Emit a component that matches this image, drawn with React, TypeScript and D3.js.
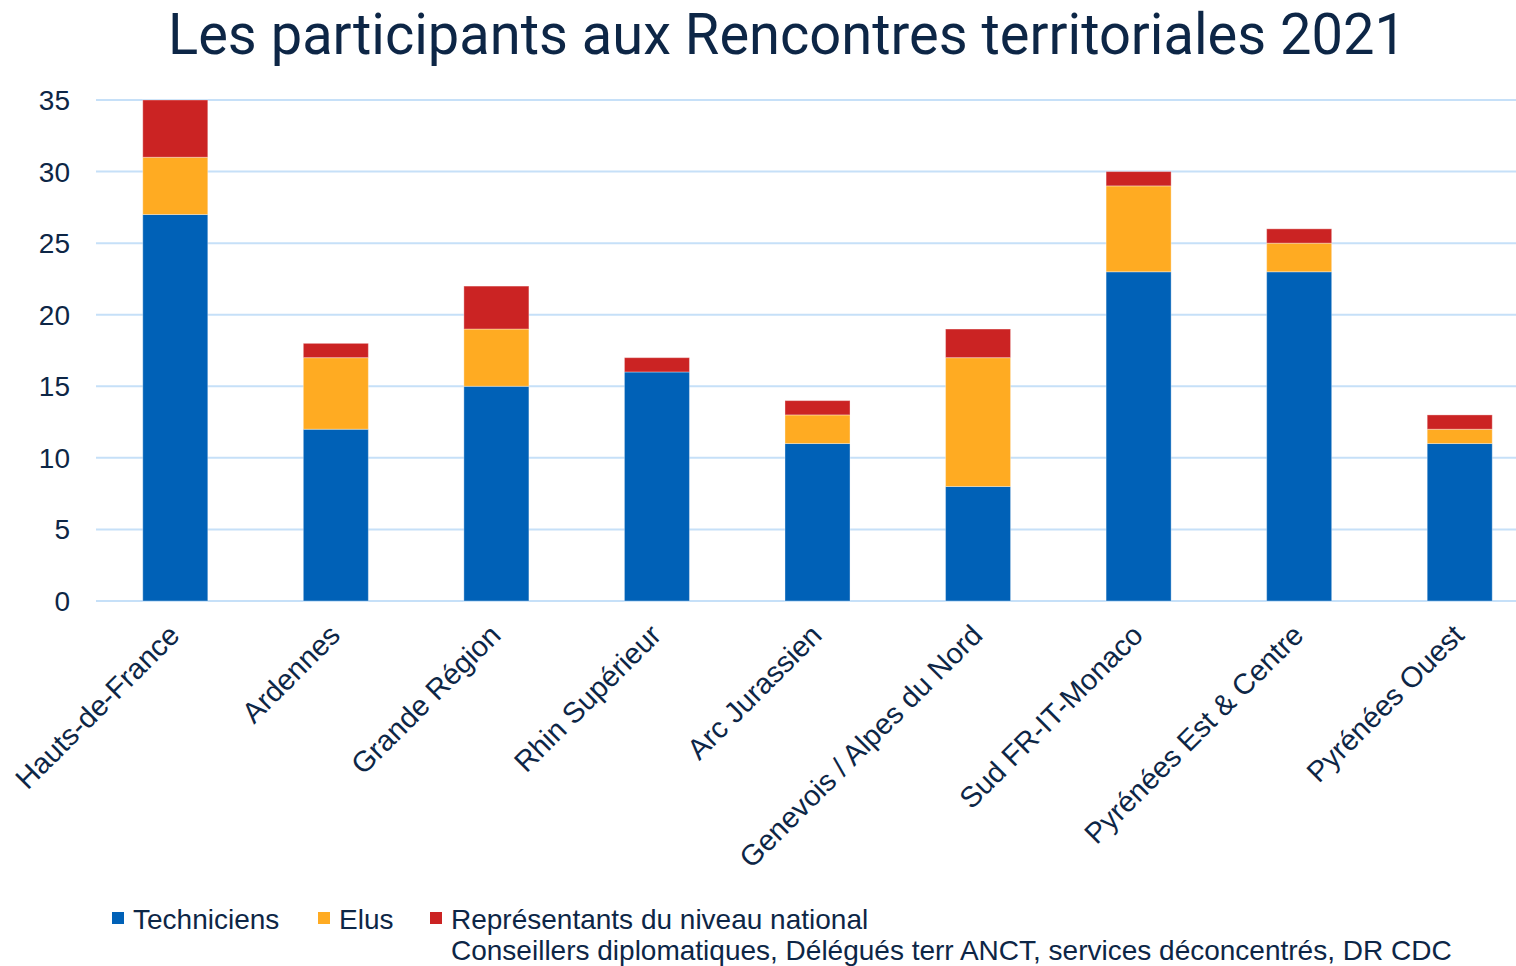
import React from 'react';
import * as d3 from 'd3';

const categories = [
    'Hauts-de-France', 'Ardennes', 'Grande Région', 'Rhin Supérieur', 'Arc Jurassien',
    'Genevois / Alpes du Nord', 'Sud FR-IT-Monaco', 'Pyrénées Est & Centre', 'Pyrénées Ouest',
];
const techniciens = [27, 12, 15, 16, 11, 8, 23, 23, 11];
const elus = [4, 5, 4, 0, 2, 9, 6, 2, 1];
const representants = [4, 1, 3, 1, 1, 2, 1, 1, 1];
const seriesKeys = ['techniciens', 'elus', 'representants'];
const seriesColors = ['#0061b7', '#ffab22', '#cb2323'];
const yTicks = [0, 5, 10, 15, 20, 25, 30, 35];

const W = 1516;
const H = 966;
const textColor = '#0d2646';

const App: React.FC = () => {
    const rows = categories.map((c, i) => ({
        cat: c,
        techniciens: techniciens[i],
        elus: elus[i],
        representants: representants[i],
    }));
    const stacked = d3.stack<any>().keys(seriesKeys)(rows);

    const x = d3.scaleBand<string>()
        .domain(categories)
        .range([95, 1540])
        .paddingInner(0.595)
        .paddingOuter(0.2975);
    const y = d3.scaleLinear().domain([0, 35]).range([601, 100]);

    return (
        <svg width={W} height={H} style={{ position: 'fixed', top: 0, left: 0, background: '#fff' }}
            fontFamily="'Liberation Sans', Arial, sans-serif">
            <text x={168} y={54} fontSize={58} fill={textColor} textLength={1238} lengthAdjust="spacingAndGlyphs"
                fontFamily="Roboto, 'Noto Sans', sans-serif">
                Les participants aux Rencontres territoriales 2021
            </text>

            {/* gridlines */}
            {yTicks.map(t => (
                <line key={t} x1={96} x2={W} y1={y(t)} y2={y(t)} stroke="#c6e0f8" strokeWidth={2} />
            ))}
            {yTicks.map(t => (
                <text key={'l' + t} x={70} y={y(t) + 10} textAnchor="end" fontSize={28} fill={textColor}>{t}</text>
            ))}

            {/* bars */}
            {stacked.map((s, si) => (
                <g key={s.key} fill={seriesColors[si]}>
                    {s.map((d, i) => d[1] > d[0] ? (
                        <rect key={i} x={x(categories[i])} width={x.bandwidth()}
                            y={y(d[1])} height={y(d[0]) - y(d[1])}
                            stroke="#ffffff" strokeOpacity={0.35} strokeWidth={1} />
                    ) : null)}
                </g>
            ))}

            {/* category labels */}
            {categories.map(c => {
                const cx = (x(c) as number) + x.bandwidth() / 2 + 6;
                return (
                    <text key={c} transform={`translate(${cx},${637}) rotate(-45)`}
                        textAnchor="end" fontSize={29} fill={textColor}>{c}</text>
                );
            })}

            {/* legend */}
            <rect x={112} y={912} width={12} height={12} fill={seriesColors[0]} />
            <text x={133} y={929} fontSize={28} fill={textColor}>Techniciens</text>
            <rect x={318} y={912} width={12} height={12} fill={seriesColors[1]} />
            <text x={339} y={929} fontSize={28} fill={textColor}>Elus</text>
            <rect x={430} y={912} width={12} height={12} fill={seriesColors[2]} />
            <text x={451} y={929} fontSize={28} fill={textColor}>Représentants du niveau national</text>
            <text x={451} y={960} fontSize={28} fill={textColor}>Conseillers diplomatiques, Délégués terr ANCT, services déconcentrés, DR CDC</text>
        </svg>
    );
};

export default App;
